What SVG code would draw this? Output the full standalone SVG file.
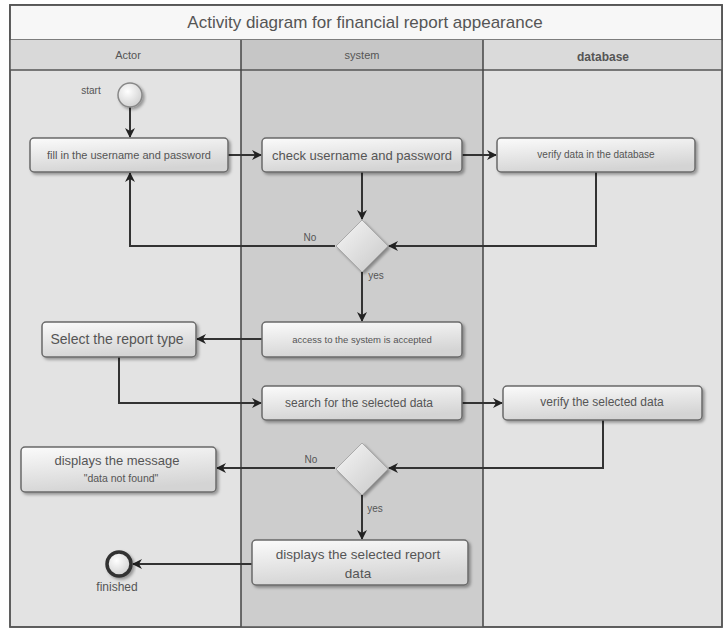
<svg xmlns="http://www.w3.org/2000/svg" width="725" height="631" viewBox="0 0 725 631">
<defs>
<linearGradient id="boxg" x1="0" y1="0" x2="0.3" y2="1">
<stop offset="0" stop-color="#fbfbfb"/>
<stop offset="1" stop-color="#d4d4d4"/>
</linearGradient>
<radialGradient id="circg" cx="0.4" cy="0.35" r="0.7">
<stop offset="0" stop-color="#ffffff"/>
<stop offset="1" stop-color="#cfcfcf"/>
</radialGradient>
<linearGradient id="diag" x1="0" y1="0" x2="1" y2="1">
<stop offset="0" stop-color="#f6f6f6"/>
<stop offset="1" stop-color="#c8c8c8"/>
</linearGradient>
<filter id="sh" x="-10%" y="-20%" width="130%" height="160%">
<feDropShadow dx="2" dy="2" stdDeviation="1.5" flood-color="#000" flood-opacity="0.35"/>
</filter>
<marker id="arr" viewBox="0 0 10 10" refX="9" refY="5" markerWidth="10" markerHeight="10" markerUnits="userSpaceOnUse" orient="auto">
<path d="M0,0 L10,5 L0,10 L3,5 Z" fill="#222"/>
</marker>
</defs>
<style>
.box{fill:url(#boxg);stroke:#6a6a6a;stroke-width:1.5;filter:url(#sh)}
.t{font-family:"Liberation Sans",Arial,sans-serif;fill:#555;text-anchor:middle}
.c{fill:none;stroke:#333;stroke-width:2;marker-end:url(#arr)}
.lab{font-family:"Liberation Sans",Arial,sans-serif;fill:#555;font-size:10px;text-anchor:middle}
</style>
<rect x="0" y="0" width="725" height="631" fill="#ffffff"/>
<g id="frame">
<rect x="10" y="5" width="712" height="622" fill="#e3e3e3" stroke="#555" stroke-width="1.5"/>
<rect x="241" y="40" width="242" height="587" fill="#cdcdcd"/>
<rect x="10" y="5" width="712" height="35" fill="#f7f7f7" stroke="#555" stroke-width="1.5"/>
<rect x="10" y="40" width="231" height="30" fill="#d9d9d9"/>
<rect x="241" y="40" width="242" height="30" fill="#c6c6c6"/>
<rect x="483" y="40" width="239" height="30" fill="#dadada"/>
<line x1="10" y1="70" x2="722" y2="70" stroke="#555" stroke-width="1.5"/>
<line x1="241" y1="40" x2="241" y2="627" stroke="#444" stroke-width="1.5"/>
<line x1="483" y1="40" x2="483" y2="627" stroke="#444" stroke-width="1.5"/>
<rect x="10" y="5" width="712" height="622" fill="none" stroke="#555" stroke-width="1.5"/>
<text class="t" x="365" y="28" font-size="17">Activity diagram for financial report appearance</text>
<text class="t" x="128" y="59" font-size="11">Actor</text>
<text class="t" x="362" y="59" font-size="11">system</text>
<text class="t" x="603" y="61" font-size="12" font-weight="bold" fill="#444">database</text>
</g>
<g id="connectors">
<line class="c" x1="130" y1="107" x2="130" y2="137"/>
<line class="c" x1="228" y1="155" x2="261" y2="155"/>
<line class="c" x1="462" y1="155" x2="496" y2="155"/>
<line class="c" x1="362" y1="172" x2="362" y2="219"/>
<polyline class="c" points="596,172 596,246 389,246"/>
<polyline class="c" points="335,246 130,246 130,173"/>
<line class="c" x1="362" y1="272" x2="362" y2="321"/>
<line class="c" x1="262" y1="339" x2="197" y2="339"/>
<polyline class="c" points="119,357 119,403 261,403"/>
<line class="c" x1="462" y1="403" x2="502" y2="403"/>
<polyline class="c" points="603,420 603,468 389,468"/>
<line class="c" x1="335" y1="468" x2="217" y2="468"/>
<line class="c" x1="362" y1="495" x2="362" y2="539"/>
<line class="c" x1="252" y1="564" x2="133" y2="564"/>
<text class="lab" x="310" y="241">No</text>
<text class="lab" x="376" y="279">yes</text>
<text class="lab" x="311" y="463">No</text>
<text class="lab" x="375" y="512">yes</text>
</g>
<g id="start">
<circle cx="130" cy="95" r="12" fill="url(#circg)" stroke="#888" stroke-width="1.5" filter="url(#sh)"/>
<text class="lab" x="91" y="94" font-size="9">start</text>
</g>
<g id="fill-credentials">
<rect class="box" x="30" y="138" width="198" height="34" rx="4"/>
<text class="t" x="129" y="159" font-size="11">fill in the username and password</text>
</g>
<g id="check-credentials">
<rect class="box" x="262" y="138" width="200" height="34" rx="4"/>
<text class="t" x="362" y="160" font-size="13">check username and password</text>
</g>
<g id="verify-data">
<rect class="box" x="497" y="138" width="198" height="34" rx="4"/>
<text class="t" x="596" y="158" font-size="10">verify data in the database</text>
</g>
<g id="decision1">
<polygon points="362,220 388,246 362,272 336,246" fill="url(#diag)" stroke="#aaa" stroke-width="1" filter="url(#sh)"/>
</g>
<g id="access-accepted">
<rect class="box" x="262" y="322" width="200" height="35" rx="4"/>
<text class="t" x="362" y="343" font-size="9.5">access to the system is accepted</text>
</g>
<g id="select-report">
<rect class="box" x="42" y="322" width="154" height="35" rx="4"/>
<text class="t" x="117" y="344" font-size="14">Select the report type</text>
</g>
<g id="search-data">
<rect class="box" x="262" y="386" width="200" height="34" rx="4"/>
<text class="t" x="359" y="407" font-size="12">search for the selected data</text>
</g>
<g id="verify-selected">
<rect class="box" x="503" y="386" width="199" height="34" rx="4"/>
<text class="t" x="602" y="406" font-size="12">verify the selected data</text>
</g>
<g id="decision2">
<polygon points="362,443 388,469 362,495 336,469" fill="url(#diag)" stroke="#aaa" stroke-width="1" filter="url(#sh)"/>
</g>
<g id="not-found">
<rect class="box" x="21" y="447" width="195" height="45" rx="4"/>
<text class="t" x="117" y="465" font-size="13">displays the message</text>
<text class="t" x="121" y="482" font-size="10.5">"data not found"</text>
</g>
<g id="display-report">
<rect class="box" x="252" y="540" width="216" height="45" rx="4"/>
<text class="t" x="358" y="559" font-size="13.5">displays the selected report</text>
<text class="t" x="358" y="578" font-size="13.5">data</text>
</g>
<g id="finish">
<circle cx="119" cy="564" r="12" fill="url(#circg)" stroke="#333" stroke-width="3.5" filter="url(#sh)"/>
<text class="t" x="117" y="591" font-size="12">finished</text>
</g>
</svg>
